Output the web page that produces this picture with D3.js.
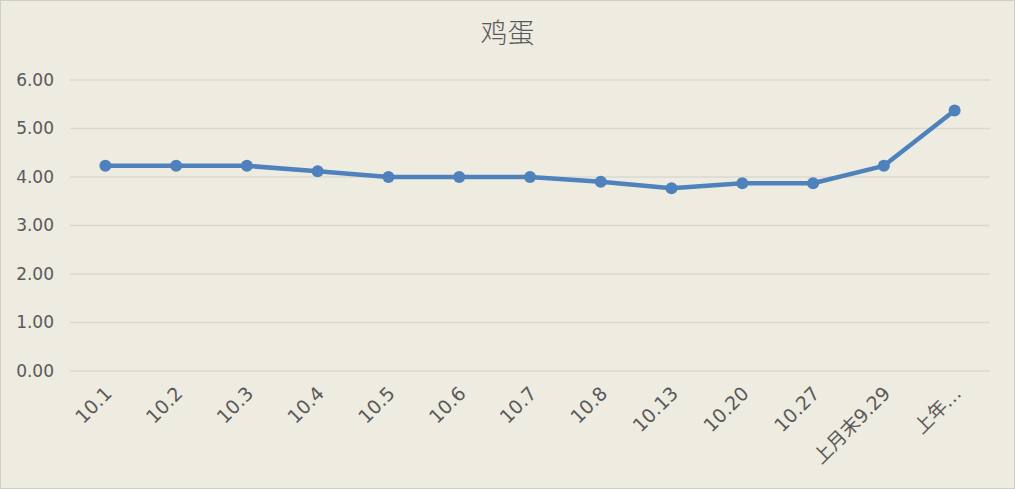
<!DOCTYPE html>
<html>
<head>
<meta charset="utf-8">
<script src="https://cdn.jsdelivr.net/npm/d3@7"></script>
<style>
  body { margin: 0; background: #fff; }
  svg { display: block; }
</style>
</head>
<body>
<svg id="chart" width="1015" height="489"></svg>
<script>
// chart data
var chart_title = "鸡蛋";
var categories = ["10.1", "10.2", "10.3", "10.4", "10.5", "10.6", "10.7", "10.8", "10.13", "10.20", "10.27", "上月末9.29", "上年…"];
var prices = [4.23, 4.23, 4.23, 4.12, 4.00, 4.00, 4.00, 3.90, 3.77, 3.87, 3.87, 4.23, 5.37];
var y_ticks = [0, 1, 2, 3, 4, 5, 6];

var W = 1015, H = 489;
var margin = {top: 80, right: 25, bottom: 118, left: 70};
var svg = d3.select("#chart");

// background + border
svg.append("rect")
	.attr("x", 0.5).attr("y", 0.5)
	.attr("width", W - 1).attr("height", H - 1)
	.style("fill", "#EEEBE1")
	.style("stroke", "#D0CEC8");

var x = d3.scaleBand()
	.domain(categories)
	.range([margin.left, W - margin.right]);
var y = d3.scaleLinear()
	.domain([0, 6])
	.range([H - margin.bottom, margin.top]);

// gridlines
svg.append("g").selectAll("line")
	.data(y_ticks).enter().append("line")
	.attr("x1", margin.left).attr("x2", W - margin.right)
	.attr("y1", function(d){ return y(d); })
	.attr("y2", function(d){ return y(d); })
	.style("stroke", "#D9D8D2")
	.style("stroke-width", 1.3);

// y axis labels
var yAxis = d3.axisLeft(y).tickValues(y_ticks).tickFormat(d3.format(".2f")).tickSize(0).tickPadding(16);
var yg = svg.append("g").attr("transform", "translate(" + margin.left + ",0)").call(yAxis);
yg.select(".domain").remove();
yg.selectAll("text")
	.style("font-family", "'DejaVu Sans', sans-serif")
	.style("font-size", "17px")
	.style("fill", "#595959");

// x axis labels, rotated
var xAxis = d3.axisBottom(x).tickSize(0).tickPadding(0);
var xg = svg.append("g").attr("transform", "translate(0," + (H - margin.bottom) + ")").call(xAxis);
xg.select(".domain").remove();
xg.selectAll("text")
	.attr("y", 0).attr("dy", "0.35em")
	.attr("text-anchor", "end")
	.attr("transform", "translate(3,19) rotate(-45)")
	.style("font-family", "'DejaVu Sans', 'Noto Sans CJK SC', sans-serif")
	.style("font-size", "19px")
	.style("fill", "#595959");

// line
var cx = function(d, i){ return x(categories[i]) + x.bandwidth() / 2; };
var line = d3.line()
	.x(function(d, i){ return cx(d, i); })
	.y(function(d){ return y(d); });
svg.append("path")
	.datum(prices)
	.attr("d", line)
	.style("fill", "none")
	.style("stroke", "#4F81BD")
	.style("stroke-width", 4.5)
	.style("stroke-linejoin", "round");

svg.append("g").selectAll("circle")
	.data(prices).enter().append("circle")
	.attr("cx", cx)
	.attr("cy", function(d){ return y(d); })
	.attr("r", 6)
	.style("fill", "#4F81BD");

// title
svg.append("text")
	.attr("x", W / 2).attr("y", 43)
	.attr("text-anchor", "middle")
	.style("font-family", "'Noto Sans CJK SC', sans-serif")
	.style("font-weight", 300)
	.style("font-size", "27px")
	.style("fill", "#595959")
	.text(chart_title);
</script>
</body>
</html>
